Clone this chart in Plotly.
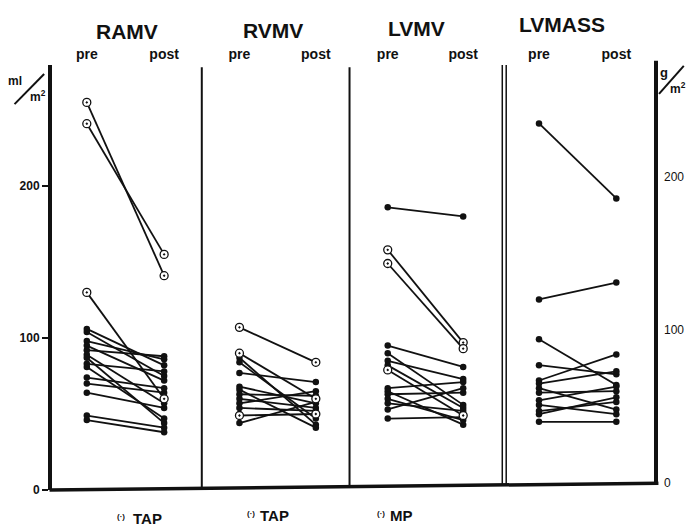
import plotly.graph_objects as go

# Paired pre/post values per patient. Filled = no procedure flag,
# open markers = TAP (tricuspid annuloplasty) or MP (mitral procedure).
PHASES = ["pre", "post"]

RAMV_PRE = [106, 104, 98, 95, 92, 89, 87, 83, 81, 74, 70, 64, 49, 46]
RAMV_POST = [82, 75, 86, 72, 88, 57, 44, 78, 47, 67, 64, 54, 41, 38]
RAMV_PRE_TAP = [255, 241, 130]
RAMV_POST_TAP = [141, 155, 60]

RVMV_PRE = [87, 84, 77, 68, 66, 63, 60, 57, 54, 44]
RVMV_POST = [43, 47, 71, 57, 41, 62, 54, 65, 52, 58]
RVMV_PRE_TAP = [107, 90, 49]
RVMV_POST_TAP = [84, 60, 50]

LVMV_PRE = [186, 95, 90, 85, 82, 67, 65, 63, 60, 57, 53, 47]
LVMV_POST = [180, 81, 56, 73, 54, 71, 43, 64, 46, 52, 67, 48]
LVMV_PRE_MP = [158, 149, 79]
LVMV_POST_MP = [97, 93, 49]

LVMASS_PRE = [235, 120, 94, 77, 67, 65, 62, 59, 54, 51, 47, 45, 40]
LVMASS_POST = [186, 131, 64, 71, 84, 73, 48, 60, 63, 45, 53, 56, 40]

TITLES = ["RAMV", "RVMV", "LVMV", "LVMASS"]
VOL_TICKS = [0, 100, 200]
MASS_TICKS = [0, 100, 200]

FONT = "Liberation Sans"
INK = "#111111"

# panel x-domains (paper) and category ranges
DOMAINS = [[0.0, 0.248], [0.248, 0.4926], [0.4926, 0.7455], [0.752, 1.0]]
XRANGES = [[-0.45, 1.487], [-0.493, 1.441], [-0.506, 1.518], [-0.424, 1.513]]


def paired(pre, post):
    xs, ys = [], []
    for a, b in zip(pre, post):
        xs += [PHASES[0], PHASES[1], None]
        ys += [a, b, None]
    return xs, ys


def add_group(fig, pre, post, xa, ya, open_marker):
    xs, ys = paired(pre, post)
    if open_marker:
        marker = dict(symbol="circle-dot", size=8, color="white",
                      line=dict(color=INK, width=1.3))
    else:
        marker = dict(symbol="circle", size=6.5, color=INK, line=dict(width=0))
    fig.add_trace(go.Scatter(
        x=xs, y=ys, xaxis=xa, yaxis=ya, mode="lines+markers",
        line=dict(color=INK, width=1.8), marker=marker,
        showlegend=False, hoverinfo="skip", connectgaps=False,
    ))


fig = go.Figure()

groups = [
    ("x", "y", RAMV_PRE, RAMV_POST, RAMV_PRE_TAP, RAMV_POST_TAP),
    ("x2", "y", RVMV_PRE, RVMV_POST, RVMV_PRE_TAP, RVMV_POST_TAP),
    ("x3", "y", LVMV_PRE, LVMV_POST, LVMV_PRE_MP, LVMV_POST_MP),
]
for xa, ya, pre, post, pre_o, post_o in groups:
    add_group(fig, pre, post, xa, ya, False)
    add_group(fig, pre_o, post_o, xa, ya, True)
add_group(fig, LVMASS_PRE, LVMASS_POST, "x4", "y2", False)

layout = dict(
    width=696, height=529,
    margin=dict(l=52, r=35, t=65, b=39),
    paper_bgcolor="white", plot_bgcolor="white",
    font=dict(family=FONT, color=INK),
    showlegend=False,
)

for i, (dom, rng) in enumerate(zip(DOMAINS, XRANGES)):
    key = "xaxis" if i == 0 else f"xaxis{i + 1}"
    layout[key] = dict(
        domain=dom, type="category", categoryorder="array",
        categoryarray=PHASES, range=rng, side="top",
        anchor="y" if i < 3 else "y2",
        showgrid=False, zeroline=False, showline=False, ticks="",
        tickfont=dict(size=14, family=FONT, weight="bold"),
        ticklabelstandoff=2, fixedrange=True,
    )

layout["yaxis"] = dict(
    range=[0, 279.6], tickvals=VOL_TICKS, ticktext=[str(v) for v in VOL_TICKS],
    showgrid=False, zeroline=False, showline=True, linewidth=4,
    linecolor=INK, ticks="outside", ticklen=6, tickwidth=1.5,
    tickcolor=INK, tickfont=dict(size=12, family=FONT, weight="bold"),
    anchor="x",
)
layout["yaxis2"] = dict(
    range=[-4.58, 273.2], tickvals=MASS_TICKS,
    ticktext=[str(v) for v in MASS_TICKS],
    overlaying="y", side="right", anchor="x4",
    showgrid=False, zeroline=False, showline=False, ticks="",
    ticklabelstandoff=7, tickfont=dict(size=12, family=FONT),
)

fig.update_layout(**layout)


# frame: tilted base line, panel dividers, right axis bar
def base_y(f):
    return 0.016 * f


shapes = [
    dict(type="line", xref="paper", yref="paper", x0=-0.004, y0=base_y(0),
         x1=1.004, y1=base_y(1), line=dict(color=INK, width=3.5)),
    dict(type="line", xref="paper", yref="paper", x0=1.0, y0=base_y(1),
         x1=1.0, y1=1.01, line=dict(color=INK, width=4)),
]
for xf, w, top in [(0.248, 2, 0.995), (0.4926, 2, 0.995),
                   (0.7455, 1.5, 1.0), (0.752, 1.5, 1.0)]:
    shapes.append(dict(type="line", xref="paper", yref="paper", x0=xf,
                       y0=base_y(xf), x1=xf, y1=top,
                       line=dict(color=INK, width=w)))
# unit slashes
shapes.append(dict(type="line", xref="paper", yref="paper", x0=-0.062,
                   y0=0.908, x1=-0.013, y1=0.979,
                   line=dict(color=INK, width=2)))
shapes.append(dict(type="line", xref="paper", yref="paper", x0=1.005,
                   y0=0.932, x1=1.046, y1=0.998,
                   line=dict(color=INK, width=2)))
fig.update_layout(shapes=shapes)


def note(text, x, y, size, bold=True):
    return dict(text=f"<b>{text}</b>" if bold else text, x=x, y=y,
                xref="paper", yref="paper", xanchor="center",
                yanchor="middle", showarrow=False,
                font=dict(size=size, family=FONT, color=INK))


ann = []
title_pos = [(0.124, 1.078), (0.366, 1.082), (0.604, 1.087), (0.845, 1.096)]
for t, (x, y) in zip(TITLES, title_pos):
    ann.append(note(t, x, y, 21))

# marker keys under the panels
for mx, tx, label, y in [(0.115, 0.158, "TAP", -0.066),
                         (0.33, 0.369, "TAP", -0.059),
                         (0.544, 0.578, "MP", -0.059)]:
    ann.append(note("(·)", mx, y + 0.003, 8))
    ann.append(note(label, tx, y, 15))

ann += [
    note("ml", -0.061, 0.962, 12),
    note("m<sup>2</sup>", -0.024, 0.928, 12),
    note("g", 1.013, 0.982, 13),
    note("m<sup>2</sup>", 1.036, 0.945, 12),
]
fig.update_layout(annotations=ann)

fig.write_html("out.html")
